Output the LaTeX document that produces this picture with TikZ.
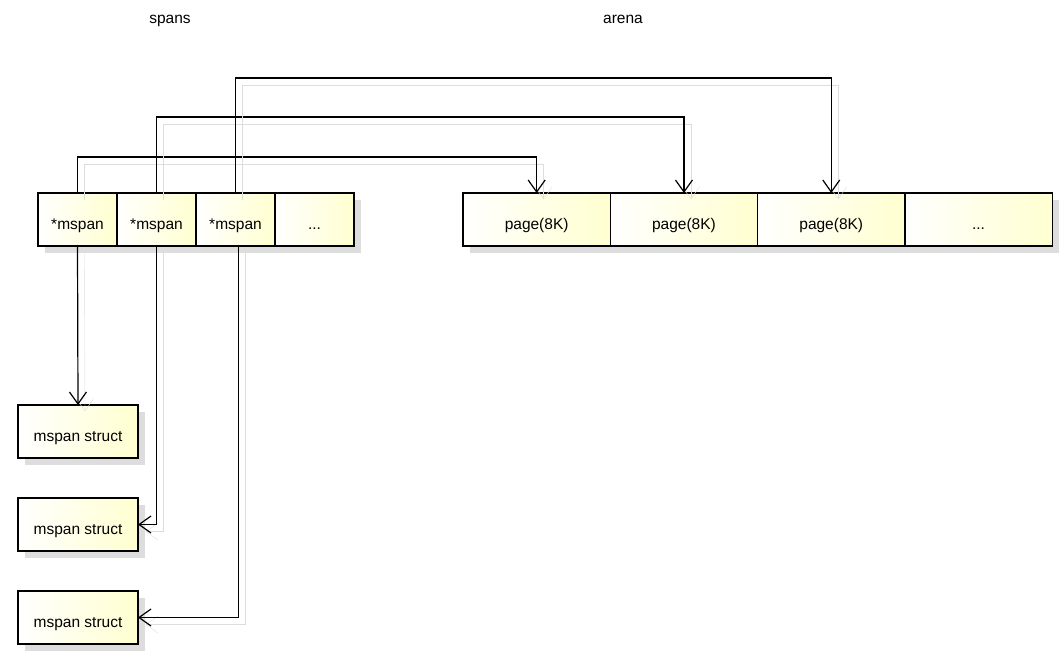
\documentclass[tikz,border=0pt]{standalone}
\usepackage{fontspec}
\setmainfont{Liberation Sans}
\usetikzlibrary{positioning,arrows.meta,shadows}
\definecolor{cCell}{RGB}{255,255,208}
\definecolor{cShade}{RGB}{221,221,221}

\begin{document}
\begin{tikzpicture}[x=1pt,y=-1pt,node distance=0pt,font=\fontsize{15.5}{18}\selectfont]
\tikzset{cell/.style={draw,line width=1.2pt,left color=white,right color=cCell,minimum height=53pt,inner sep=0pt,outer sep=0pt,text height=20pt,text depth=0pt,drop shadow={shadow xshift=7pt,shadow yshift=-7pt,fill=cShade,opacity=1}},
  ptr/.style={line width=1.2pt,-{Straight Barb[length=12pt,width=17pt]},preaction={draw,cShade,transform canvas={shift={(7pt,-7pt)}}}}}
\useasboundingbox (0,0) rectangle (1064,657);

\node[anchor=base] (lspans) at (170,23) {spans};
\node[anchor=base] (larena) at (623,23) {arena};

\node[cell,minimum width=79pt,anchor=north west] (sp1) at (38,193) {*mspan};
\node[cell,minimum width=79pt,right=of sp1] (sp2) {*mspan};
\node[cell,minimum width=79pt,right=of sp2] (sp3) {*mspan};
\node[cell,minimum width=79pt,right=of sp3] (sp4) {...};

\node[cell,minimum width=147.3pt,anchor=north west] (pg1) at (463,193) {page(8K)};
\node[cell,minimum width=147.3pt,right=of pg1] (pg2) {page(8K)};
\node[cell,minimum width=147.3pt,right=of pg2] (pg3) {page(8K)};
\node[cell,minimum width=147.3pt,right=of pg3] (pg4) {...};

\node[cell,minimum width=120pt,anchor=north west] (st1) at (18,405) {mspan struct};
\node[cell,minimum width=120pt,below=40pt of st1] (st2) {mspan struct};
\node[cell,minimum width=120pt,below=40pt of st2] (st3) {mspan struct};

\draw[ptr] (sp1.north) -- ++(0,-36) -| (pg1.north);
\draw[ptr] (sp2.north) -- ++(0,-76) -| (pg2.north);
\draw[ptr] (sp3.north) -- ++(0,-115) -| (pg3.north);
\draw[ptr] (sp1.south) -- (st1.north);
\draw[ptr] (sp2.south) |- (st2.east);
\draw[ptr] ([xshift=3pt]sp3.south) |- (st3.east);
\end{tikzpicture}
\end{document}
